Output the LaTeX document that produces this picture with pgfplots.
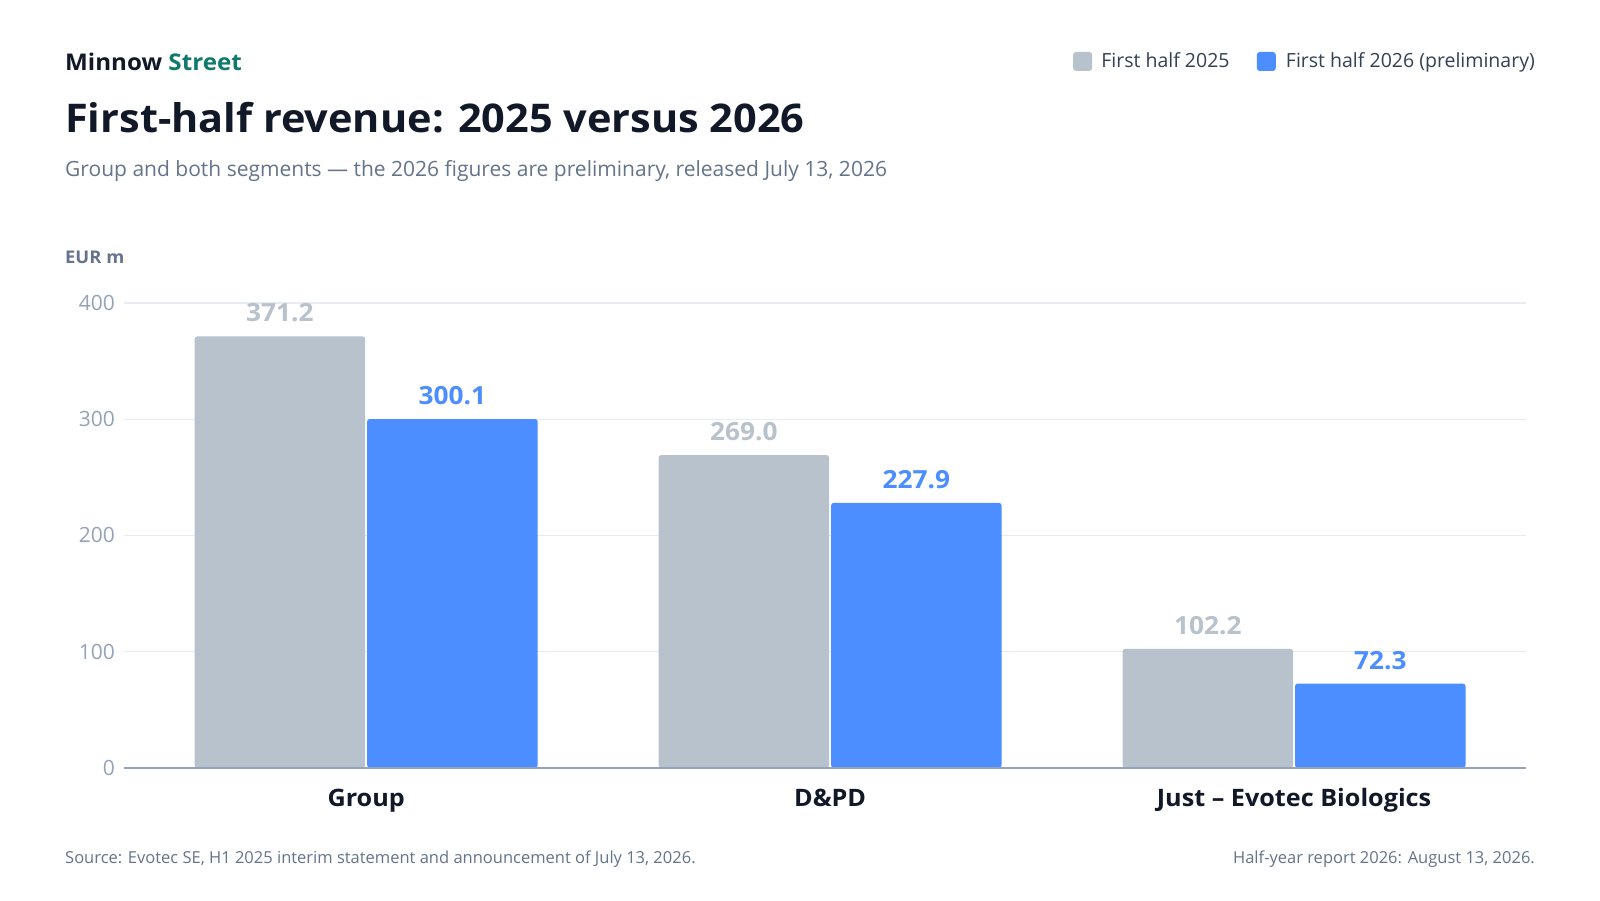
\documentclass[border=0pt]{standalone}
\usepackage{fontspec}
\setmainfont{Open Sans}[BoldFeatures={FakeStretch=1.05}]
\usepackage{pgfplots}
\pgfplotsset{compat=1.18}
\usetikzlibrary{calc}
\definecolor{cgray}{HTML}{B8C2CC}
\definecolor{cblue}{HTML}{4C8DFF}
\definecolor{cgrid}{HTML}{E8EBEF}
\definecolor{caxis}{HTML}{94A3B8}
\definecolor{ctick}{HTML}{94A3B8}
\definecolor{cdark}{HTML}{111827}
\definecolor{csub}{HTML}{64748B}
\definecolor{cgreen}{HTML}{0F7A6C}
\definecolor{clegend}{HTML}{334155}
\newcommand{\fs}[1]{\fontsize{#1bp}{#1bp}\selectfont}
\begin{document}
\begin{tikzpicture}[x=1bp,y=1bp]
\path[fill=white] (0,0) rectangle (1600,900);
% header
\node[anchor=base west, inner sep=0pt, text=cdark] at (65,829) {\fs{23}\bfseries Minnow \textcolor{cgreen}{Street}};
\node[anchor=base west, inner sep=0pt, text=cdark] at (65,767) {\fs{39.5}\bfseries First-half revenue: 2025 versus 2026};
\node[anchor=base west, inner sep=0pt, text=csub] at (65,723) {\fs{21}Group and both segments — the 2026 figures are preliminary, released July 13, 2026};
\node[anchor=base west, inner sep=0pt, text=csub] at (65,636) {\fs{17.5}\bfseries EUR m};
% legend
\node[anchor=base east, inner sep=0pt, text=clegend] (l2) at (1535,832) {\fs{19.5}First half 2026 (preliminary)};
\fill[cblue, rounded corners=3bp] ($(l2.base west)+(-29,-3)$) rectangle ++(19,19);
\node[anchor=base east, inner sep=0pt, text=clegend] (l1) at ($(l2.base west)+(-56,0)$) {\fs{19.5}First half 2025};
\fill[cgray, rounded corners=3bp] ($(l1.base west)+(-28,-3)$) rectangle ++(19,19);
% footer
\node[anchor=base west, inner sep=0pt, text=csub] at (65,37) {\fs{16.5}Source: Evotec SE, H1 2025 interim statement and announcement of July 13, 2026.};
\node[anchor=base east, inner sep=0pt, text=csub] at (1535,37) {\fs{16.5}Half-year report 2026: August 13, 2026.};
\begin{axis}[
  at={(124bp,132.3bp)}, anchor=south west,
  scale only axis, width=1402bp, height=464.7bp,
  xmin=-0.522, xmax=2.5, ymin=0, ymax=400,
  axis line style={draw=none},
  axis x line*=bottom, axis y line*=left,
  ytick={0,100,200,300,400},
  xtick={0,1,2},
  xticklabels={Group, D\&PD, Just – Evotec Biologics},
  major tick length=0pt,
  ymajorgrids, grid style={cgrid, line width=1.2bp},
  /pgf/number format/assume math mode=true,
  yticklabel style={font=\fs{21}, text=ctick, inner sep=0pt, anchor=east, xshift=-9bp},
  xticklabel style={font=\fs{24}\bfseries, text=cdark, inner sep=0pt, anchor=base, yshift=-39.3bp},
  ybar, bar width=170.5bp,
  nodes near coords={\pgfmathprintnumber[fixed,fixed zerofill,precision=1]{\pgfplotspointmeta}},
  nodes near coords style={font=\fs{25}\bfseries, inner sep=0pt, anchor=base, yshift=14.5bp},
  clip=false,
]
\addplot[fill=cgray, draw=none, rounded corners=2.5bp, bar shift=-86.25bp, nodes near coords style={text=cgray}]
  coordinates {(0,371.2) (1,269.0) (2,102.2)};
\addplot[fill=cblue, draw=none, rounded corners=2.5bp, bar shift=86.25bp, nodes near coords style={text=cblue}]
  coordinates {(0,300.1) (1,227.9) (2,72.3)};
\draw[caxis, line width=2bp] (axis cs:-0.522,0) -- (axis cs:2.5,0);
\end{axis}
\end{tikzpicture}
\end{document}
